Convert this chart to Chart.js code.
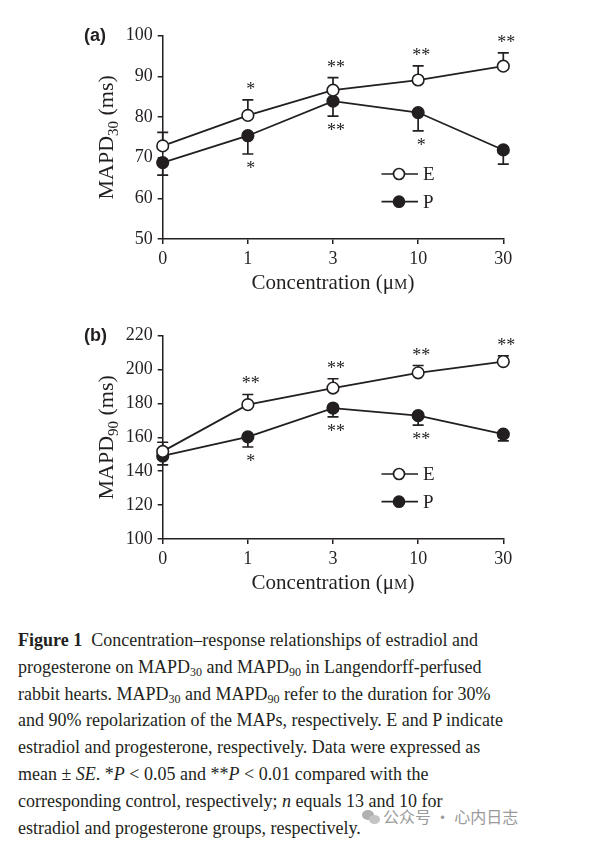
<!DOCTYPE html>
<html lang="en">
  <head>
    <meta charset="UTF-8" />
    <title>Figure 1 - MAPD30 and MAPD90</title>
    <script src="https://cdn.jsdelivr.net/npm/chart.js"></script>
    <style>
      body { margin: 0; background: #fff; width: 614px; height: 841px; position: relative; overflow: hidden; }
      .panel { position: absolute; left: 0; width: 614px; height: 300px; }
      #caption { position: absolute; left: 18px; top: 627px; font: 18px "Liberation Serif", serif; line-height: 26.8px; color: #231f20; white-space: nowrap; }
      #caption sub { font-size: 12px; vertical-align: -3px; line-height: 0; }
      #mark { position: absolute; left: 362px; top: 804px; font: 16px "Noto Sans CJK SC", sans-serif; color: #9a9a9a; white-space: nowrap; }
      #mark .icon { display: inline-block; position: relative; width: 18px; height: 14px; margin-right: 3px; vertical-align: -1px; }
      #mark .icon i { position: absolute; border-radius: 50%; background: #b0b0b0; }
    </style>
  </head>
  <body>
    <div class="panel" style="top: 0"><canvas id="chartA"></canvas></div>
    <div class="panel" style="top: 300px"><canvas id="chartB"></canvas></div>
    <div id="caption">
      <div><b>Figure 1</b>&nbsp; Concentration–response relationships of estradiol and</div>
      <div>progesterone on MAPD<sub>30</sub> and MAPD<sub>90</sub> in Langendorff-perfused</div>
      <div>rabbit hearts. MAPD<sub>30</sub> and MAPD<sub>90</sub> refer to the duration for 30%</div>
      <div>and 90% repolarization of the MAPs, respectively. E and P indicate</div>
      <div>estradiol and progesterone, respectively. Data were expressed as</div>
      <div>mean ± <i>SE</i>. *<i>P</i> &lt; 0.05 and **<i>P</i> &lt; 0.01 compared with the</div>
      <div>corresponding control, respectively; <i>n</i> equals 13 and 10 for</div>
      <div>estradiol and progesterone groups, respectively.</div>
    </div>
    <div id="mark"><span class="icon"><i style="left:0;top:0;width:12px;height:10px"></i><i style="left:7px;top:5px;width:11px;height:9px;background:#c4c4c4"></i></span>公众号 · 心内日志</div>
    <script>
      // 농도 (x축 카테고리)
      const concentrations = ["0", "1", "3", "10", "30"];

      // (a) MAPD30 (ms): 평균과 SE
      const e30Mean = [72.9, 80.4, 86.6, 89.1, 92.5];
      const e30SE = [3.3, 3.8, 3.1, 3.5, 3.3];
      const p30Mean = [68.8, 75.4, 83.9, 81.1, 71.9];
      const p30SE = [3.1, 4.5, 3.7, 4.5, 3.5];
      const e30Stars = ["", "*", "**", "**", "**"];
      const p30Stars = ["", "*", "**", "*", ""];

      // (b) MAPD90 (ms)
      const e90Mean = [151.7, 179.3, 189.1, 198.1, 204.7];
      const e90SE = [5.4, 6.0, 5.5, 4.3, 3.4];
      const p90Mean = [149.0, 160.3, 177.3, 172.8, 161.9];
      const p90SE = [5.3, 6.0, 5.2, 5.6, 4.0];
      const e90Stars = ["", "**", "**", "**", "**"];
      const p90Stars = ["", "*", "**", "**", ""];

      const ink = "#231f20";
      const serif = '"Liberation Serif", "Times New Roman", serif';

      // 에러바, 별표, 범례, 축 제목을 그리는 플러그인
      const decor = {
        id: "decor",
        beforeDatasetsDraw(chart) {
          const ctx = chart.ctx;
          const y = chart.scales.y;
          ctx.save();
          ctx.strokeStyle = ink;
          ctx.lineWidth = 1.7;
          chart.data.datasets.forEach((ds, i) => {
            const meta = chart.getDatasetMeta(i);
            meta.data.forEach((pt, j) => {
              // E는 위쪽, P는 아래쪽으로만 표시
              const end = y.getPixelForValue(ds.data[j] + ds.dir * ds.se[j]);
              ctx.beginPath();
              ctx.moveTo(pt.x, pt.y);
              ctx.lineTo(pt.x, end);
              ctx.moveTo(pt.x - 5.5, end);
              ctx.lineTo(pt.x + 5.5, end);
              ctx.stroke();
            });
          });
          ctx.restore();
        },
        afterDraw(chart) {
          const ctx = chart.ctx;
          const y = chart.scales.y;
          const area = chart.chartArea;
          const opts = chart.options.plugins.decor;
          ctx.save();
          ctx.fillStyle = ink;

          // 유의성 별표
          ctx.font = "18px " + serif;
          ctx.textAlign = "center";
          ctx.textBaseline = "alphabetic";
          chart.data.datasets.forEach((ds, i) => {
            const meta = chart.getDatasetMeta(i);
            meta.data.forEach((pt, j) => {
              if (!ds.stars[j]) return;
              const end = y.getPixelForValue(ds.data[j] + ds.dir * ds.se[j]);
              const ty = ds.dir > 0 ? end - 5 : end + 20;
              ctx.fillText(ds.stars[j], pt.x + 3, ty);
            });
          });

          // 범례 (차트 안쪽)
          chart.data.datasets.forEach((ds, i) => {
            const ly = area.top + 138.3 + i * 27.7;
            const lx = area.left + 236.3;
            ctx.strokeStyle = ink;
            ctx.lineWidth = 1.7;
            ctx.beginPath();
            ctx.moveTo(lx - 17.5, ly);
            ctx.lineTo(lx + 19, ly);
            ctx.stroke();
            ctx.beginPath();
            ctx.arc(lx, ly, 5.5, 0, Math.PI * 2);
            ctx.fillStyle = ds.pointBackgroundColor;
            ctx.fill();
            ctx.stroke();
            ctx.fillStyle = ink;
            ctx.font = "19px " + serif;
            ctx.textAlign = "left";
            ctx.textBaseline = "middle";
            ctx.fillText(ds.label, lx + 24, ly + 1);
          });

          // 패널 라벨
          ctx.font = 'bold 18px "Liberation Sans", Arial, sans-serif';
          ctx.textAlign = "left";
          ctx.textBaseline = "middle";
          ctx.fillText(opts.panel, 84, 36);

          // x축 제목: Concentration (μM), M은 작은 대문자
          const big = "21px " + serif;
          const small = "15px " + serif;
          const parts = [["Concentration (μ", big], ["M", small], [")", big]];
          let total = 0;
          parts.forEach((p) => { ctx.font = p[1]; total += ctx.measureText(p[0]).width; });
          let x = (area.left + area.right) / 2 - total / 2;
          ctx.textBaseline = "alphabetic";
          parts.forEach((p) => {
            ctx.font = p[1];
            ctx.fillText(p[0], x, area.bottom + 50);
            x += ctx.measureText(p[0]).width;
          });

          // y축 제목: MAPD + 아래첨자 + (ms), 회전
          ctx.translate(113, (area.top + area.bottom) / 2);
          ctx.rotate(-Math.PI / 2);
          const yParts = [["MAPD", "22px " + serif, 0], [opts.sub, "15px " + serif, 5], [" (ms)", "22px " + serif, 0]];
          total = 0;
          yParts.forEach((p) => { ctx.font = p[1]; total += ctx.measureText(p[0]).width; });
          x = -total / 2;
          yParts.forEach((p) => {
            ctx.font = p[1];
            ctx.fillText(p[0], x, p[2]);
            x += ctx.measureText(p[0]).width;
          });
          ctx.restore();
        },
      };

      function makeChart(id, eMean, eSE, eStars, pMean, pSE, pStars, yMin, yMax, step, panel, sub) {
        const axisGrid = { display: true, drawOnChartArea: false, drawTicks: true, tickLength: 5, color: ink, lineWidth: 1.5 };
        return new Chart(document.getElementById(id), {
          type: "line",
          data: {
            labels: concentrations,
            datasets: [
              {
                label: "E", data: eMean, se: eSE, stars: eStars, dir: 1,
                borderColor: ink, borderWidth: 1.8, pointRadius: 5.8, pointBorderWidth: 1.6,
                pointBackgroundColor: "#ffffff", pointBorderColor: ink, tension: 0,
              },
              {
                label: "P", data: pMean, se: pSE, stars: pStars, dir: -1,
                borderColor: ink, borderWidth: 1.8, pointRadius: 5.8, pointBorderWidth: 1.6,
                pointBackgroundColor: ink, pointBorderColor: ink, tension: 0,
              },
            ],
          },
          options: {
            responsive: true,
            maintainAspectRatio: false,
            animation: false,
            layout: { padding: { left: 0, top: 35.7, right: 110.7, bottom: 0 } },
            plugins: {
              legend: { display: false },
              tooltip: { enabled: false },
              decor: { panel: panel, sub: sub },
            },
            scales: {
              x: {
                type: "category",
                offset: false,
                grid: axisGrid,
                border: { display: true, color: ink, width: 1.5 },
                ticks: { color: ink, font: { family: serif, size: 18 }, padding: 4, maxRotation: 0 },
                afterFit: (s) => { s.height = 61; },
              },
              y: {
                min: yMin,
                max: yMax,
                grid: axisGrid,
                border: { display: true, color: ink, width: 1.5 },
                ticks: { stepSize: step, color: ink, font: { family: serif, size: 18 }, padding: 5 },
                afterFit: (s) => { s.width = 162.7; },
              },
            },
          },
          plugins: [decor],
        });
      }

      makeChart("chartA", e30Mean, e30SE, e30Stars, p30Mean, p30SE, p30Stars, 50, 100, 10, "(a)", "30");
      makeChart("chartB", e90Mean, e90SE, e90Stars, p90Mean, p90SE, p90Stars, 100, 220, 20, "(b)", "90");
    </script>
  </body>
</html>
